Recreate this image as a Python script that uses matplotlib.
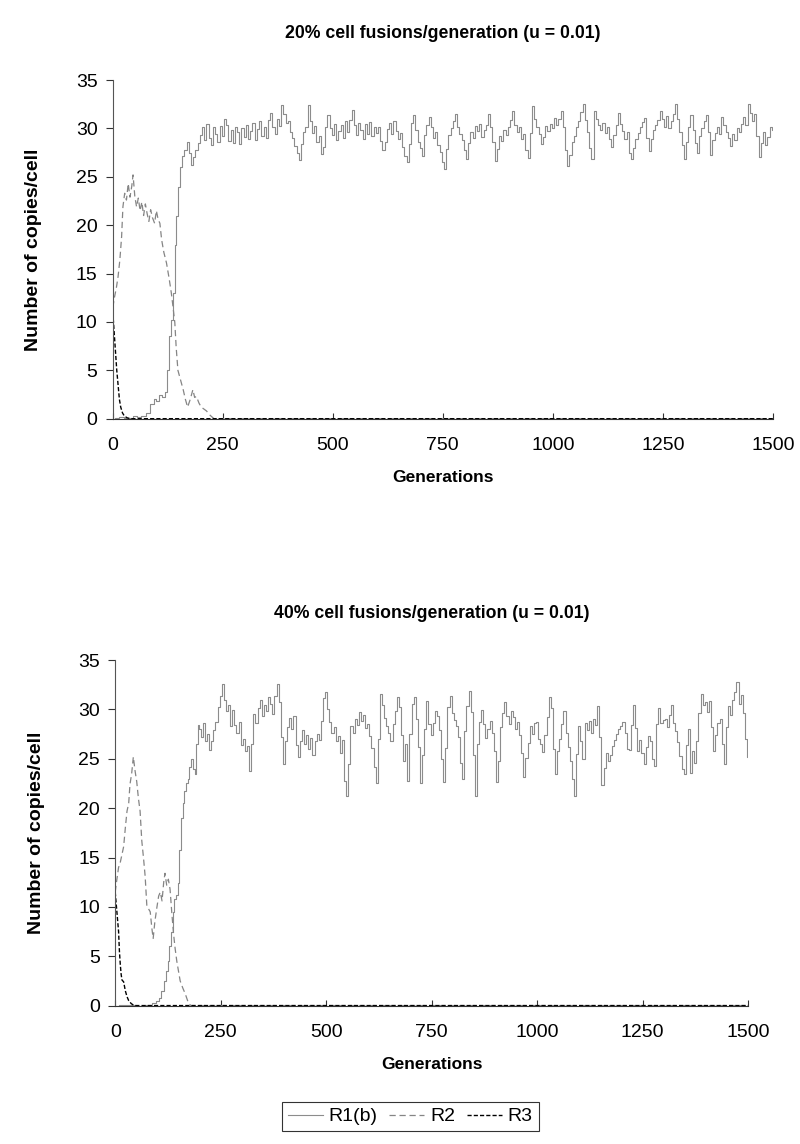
import matplotlib
matplotlib.use("Agg")
import matplotlib.pyplot as plt
import numpy as np

plt.rcParams['font.family'] = ['Liberation Sans', 'DejaVu Sans']

# ---- panel 1: 20% cell fusions ----
top_r1_early_gen = [0, 10, 20, 30, 40, 50, 60, 70, 80, 90, 95, 100, 110, 115, 120, 125, 130, 135, 140,
                    143, 146, 150, 155, 160, 165, 170, 175, 180, 185, 190, 195]
top_r1_early_val = [0, 0.1, 0.2, 0.1, 0.1, 0.3, 0.2, 0.3, 0.6, 1.5, 2.0, 1.8, 2.5, 2.2, 2.8, 5.0, 8.5, 10.2, 13.0,
                    18.0, 21.0, 24.0, 26.0, 27.2, 27.8, 28.6, 27.5, 26.2, 27.0, 27.8, 28.5]
# generations 200..1500, every 5
top_r1_plateau = [
    29.3, 30.2, 28.8, 30.5, 29.0, 28.3, 30.1, 29.4, 28.6, 30.3, 29.2, 31.0, 30.4, 28.7, 29.8, 28.5, 30.2, 29.6, 28.4, 30.0,
    29.1, 30.4, 28.9, 29.7, 30.6, 28.8, 29.9, 30.8, 29.2, 30.1, 29.0, 30.9, 31.6, 30.2, 29.4, 31.0, 30.3, 32.4, 31.5, 30.6,
    30.8, 29.6, 29.0, 28.2, 27.5, 26.7, 28.4, 29.6, 30.2, 32.4, 30.8, 29.5, 30.3, 28.6, 29.2, 27.4, 28.1, 30.2, 31.4, 30.0,
    29.3, 30.5, 28.8, 29.7, 30.4, 29.0, 30.8, 29.6, 30.9, 31.9, 30.4, 29.3, 30.6, 29.8, 28.9, 30.5, 29.4, 30.7, 29.2, 30.1,
    29.5, 30.2, 28.7, 27.8, 28.6, 29.9, 30.6, 29.4, 30.8, 29.7, 28.9, 29.5, 28.1, 27.2, 26.5, 28.4, 30.6, 31.4, 29.8, 28.6,
    28.0, 27.2, 29.3, 30.4, 31.2, 30.1, 29.0, 29.6, 28.3, 27.6, 26.5, 25.8, 27.9, 29.3, 30.0, 30.8, 31.5, 30.2, 29.4, 28.8,
    27.8, 26.8, 28.5, 29.6, 29.0, 30.3, 29.7, 30.5, 29.1, 29.8, 30.4, 31.5, 30.2, 28.6, 26.6, 27.9, 29.2, 28.7, 29.8, 29.3,
    30.2, 30.9, 31.8, 30.4, 29.6, 30.1, 28.9, 29.4, 27.8, 26.9, 29.5, 32.3, 31.0, 30.2, 29.4, 28.4, 29.1, 30.3, 29.7, 30.5,
    30.0, 31.1, 30.4, 31.0, 31.8, 30.2, 27.8, 26.1, 27.3, 28.6, 29.2, 30.1, 30.8, 31.7, 32.5, 30.9, 29.6, 28.0, 26.8, 31.8,
    31.0, 30.4, 29.8, 30.6, 29.5, 30.2, 28.9, 28.1, 29.3, 30.4, 31.6, 30.5, 29.7, 28.9, 29.6, 27.5, 26.8, 28.0, 28.9, 29.5,
    30.1, 30.7, 31.1, 29.0, 27.7, 28.9, 29.8, 30.4, 30.9, 31.8, 31.0, 30.2, 31.3, 30.0, 30.8, 31.5, 32.5, 31.0, 29.6, 28.3,
    26.8, 28.6, 30.2, 31.4, 29.8, 28.5, 27.5, 29.2, 30.0, 30.8, 31.4, 29.6, 27.3, 28.8, 29.5, 30.1, 29.4, 31.2, 30.4, 29.6,
    29.0, 28.2, 29.4, 28.8, 30.0, 29.6, 30.5, 31.2, 30.4, 32.5, 31.6, 30.8, 31.5, 29.2, 27.0, 28.5, 29.6, 28.3, 29.1, 30.2,
    29.8]
top_r2_gen = [0, 4, 8, 12, 16, 20, 23, 27, 31, 35, 39, 43, 46, 50, 54, 58, 62, 66, 70, 74, 78, 82, 86, 90, 95, 99,
              103, 107, 111, 116, 122, 128, 133, 137, 141, 144, 148, 154, 160, 165, 170, 176, 182, 186, 190, 196,
              201, 207, 213, 220, 225, 230, 1500]
top_r2_val = [11.5, 12.6, 13.5, 14.7, 16.4, 18.8, 21.9, 23.3, 22.6, 24.3, 22.9, 24.0, 25.2, 23.0, 21.9, 22.8, 21.5,
              22.4, 21.0, 22.2, 21.2, 20.4, 21.6, 20.8, 20.2, 21.5, 20.6, 20.2, 18.5, 17.2, 16.1, 14.5, 13.0, 11.5,
              9.9, 7.4, 5.0, 4.0, 3.0, 2.0, 1.2, 2.0, 3.0, 2.2, 2.3, 1.6, 1.2, 1.0, 0.8, 0.4, 0.2, 0, 0]
top_r3_gen = [0, 3, 6, 9, 12, 15, 18, 22, 26, 32, 40, 1500]
top_r3_val = [11.0, 9.0, 7.0, 5.0, 3.5, 2.0, 1.2, 0.6, 0.3, 0.1, 0, 0]

# ---- panel 2: 40% cell fusions ----
bot_r1_early_gen = [0, 20, 40, 60, 80, 95, 100, 107, 112, 118, 122, 126, 130, 134, 138, 142, 146, 150, 154,
                    158, 162, 166, 170, 174, 178, 182, 186, 190, 194, 197]
bot_r1_early_val = [0, 0.1, 0.1, 0, 0.1, 0.3, 0.5, 0.8, 1.5, 2.5, 3.5, 4.5, 6.0, 7.5, 9.5, 10.8, 11.2, 12.4, 15.8,
                    19.0, 20.5, 21.7, 22.5, 23.0, 24.2, 25.0, 24.0, 23.5, 26.5, 28.4]
bot_r1_plateau = [
    28.0, 27.2, 28.6, 26.8, 27.5, 25.9, 26.8, 27.9, 28.7, 30.2, 31.4, 32.6, 31.0, 29.8, 30.5, 28.3, 29.9, 28.4, 27.6, 28.7,
    26.4, 27.0, 25.8, 26.3, 23.8, 26.5, 29.5, 28.6, 30.1, 31.0, 29.3, 30.4, 29.8, 31.3, 30.6, 29.5, 31.4, 32.6, 30.8, 27.2,
    24.5, 26.8, 28.2, 29.1, 28.0, 29.3, 26.4, 25.2, 26.8, 27.9, 26.5, 27.4, 26.0, 27.1, 25.4, 26.8, 27.5, 26.9, 28.8, 31.2,
    31.8, 30.0, 28.7, 27.6, 28.2, 26.8, 27.3, 25.6, 26.9, 22.8, 21.2, 24.5, 28.3, 27.6, 29.0, 28.4, 29.7, 28.8, 29.4, 28.1,
    28.5, 27.3, 26.1, 24.2, 22.5, 27.0, 31.6, 30.4, 29.1, 28.3, 27.6, 26.8, 28.5, 29.8, 31.3, 30.2, 27.4, 24.8, 26.5, 22.8,
    27.5, 30.6, 31.3, 29.0, 26.2, 22.5, 25.4, 28.0, 30.9, 28.5, 27.4, 28.6, 29.8, 29.3, 27.9, 25.0, 22.7, 26.1, 30.2, 31.4,
    29.6, 28.9, 28.3, 27.2, 24.6, 23.0, 27.8, 30.3, 31.9, 29.7, 25.4, 21.2, 26.5, 28.7, 29.9, 28.5, 27.1, 28.0, 28.8, 27.6,
    25.8, 22.6, 24.8, 28.2, 29.6, 30.8, 29.3, 28.5, 29.8, 29.2, 28.0, 28.7, 27.4, 25.6, 23.2, 25.1, 26.6, 28.3, 27.5, 28.6,
    28.7, 27.0, 26.5, 25.7, 27.4, 29.2, 31.3, 30.1, 26.0, 23.5, 25.8, 27.0, 28.5, 29.8, 27.6, 26.2, 24.8, 23.0, 21.2, 25.5,
    28.3, 26.8, 25.0, 28.6, 27.9, 28.8, 27.6, 29.0, 28.4, 30.3, 27.2, 22.3, 24.1, 25.6, 24.8, 25.4, 26.3, 26.9, 27.5, 28.0,
    28.3, 28.7, 27.6, 26.0, 25.9, 28.4, 30.4, 28.1, 25.8, 26.9, 25.6, 24.5, 26.2, 27.3, 26.8, 25.0, 24.3, 28.5, 30.1, 28.6,
    28.9, 29.0, 28.2, 29.4, 30.4, 28.6, 27.8, 26.7, 25.3, 24.0, 23.5, 26.4, 28.0, 23.6, 25.8, 24.6, 26.8, 29.6, 31.6, 30.5,
    30.8, 29.7, 30.9, 28.2, 25.8, 27.4, 28.6, 29.0, 26.5, 24.5, 28.2, 30.3, 29.4, 31.0, 31.8, 32.8, 30.6, 31.5, 29.6, 27.0,
    25.2]
bot_r2_gen = [0, 4, 8, 12, 16, 20, 24, 28, 32, 35, 39, 43, 47, 51, 55, 59, 63, 67, 71, 75, 79, 83, 87, 90, 94, 99,
              103, 107, 111, 115, 118, 122, 126, 130, 134, 138, 142, 146, 150, 154, 160, 166, 174, 180, 1500]
bot_r2_val = [11.5, 12.8, 14.0, 14.5, 15.3, 16.1, 18.0, 19.7, 20.5, 22.4, 23.5, 25.2, 23.8, 22.7, 21.0, 19.7, 16.7,
              15.0, 13.1, 10.1, 9.8, 9.5, 7.8, 6.8, 8.5, 10.0, 11.1, 11.5, 10.6, 12.5, 13.4, 12.2, 12.8, 11.8, 9.5,
              7.4, 5.8, 4.5, 3.5, 2.5, 1.8, 1.2, 0.2, 0, 0]
bot_r3_gen = [0, 2, 4, 6, 8, 10, 12, 14, 16, 20, 24, 28, 32, 38, 45, 1500]
bot_r3_val = [11.5, 10.5, 9.5, 8.5, 7.5, 5.5, 4.2, 3.2, 2.6, 2.4, 1.5, 0.9, 0.5, 0.2, 0, 0]

titles = ['20% cell fusions/generation (u = 0.01)', '40% cell fusions/generation (u = 0.01)']
plateau_gen = np.arange(200, 1501, 5)

fig = plt.figure(figsize=(8, 11.44), dpi=100)
ax1 = fig.add_axes([0.141, 0.634, 0.825, 0.296])
ax2 = fig.add_axes([0.144, 0.121, 0.791, 0.302])

panels = [
    (ax1, top_r1_early_gen, top_r1_early_val, top_r1_plateau, top_r2_gen, top_r2_val, top_r3_gen, top_r3_val),
    (ax2, bot_r1_early_gen, bot_r1_early_val, bot_r1_plateau, bot_r2_gen, bot_r2_val, bot_r3_gen, bot_r3_val),
]

for i, (ax, eg, ev, pv, g2, v2, g3, v3) in enumerate(panels):
    g1 = np.concatenate([eg, plateau_gen])
    v1 = np.concatenate([ev, pv])
    l1, = ax.plot(g1, v1, color='#8c8c8c', lw=0.8, drawstyle='steps-mid', label='R1(b)')
    l2, = ax.plot(g2, v2, color='#858585', lw=0.9, dashes=(5, 3), label='R2')
    l3, = ax.plot(g3, v3, color='black', lw=1.0, dashes=(3, 1.5), label='R3')
    ax.set_xlim(0, 1500)
    ax.set_ylim(0, 35)
    ax.set_xticks([0, 250, 500, 750, 1000, 1250, 1500])
    ax.set_yticks(range(0, 36, 5))
    ax.spines['top'].set_visible(False)
    ax.spines['right'].set_visible(False)
    ax.spines['left'].set_color('#555555')
    ax.spines['bottom'].set_color('#333333')
    ax.tick_params(axis='x', direction='in', length=4, labelsize=14, pad=13, color='#333333')
    ax.tick_params(axis='y', direction='out', length=5, labelsize=14, pad=6, color='#333333')
    ax.set_title(titles[i], fontsize=12.7, fontweight='bold', pad=30)
    ax.set_xlabel('Generations', fontsize=12.5, fontweight='bold', labelpad=12)
    ax.set_ylabel('Number of copies/cell', fontsize=14, fontweight='bold', labelpad=24)

leg = fig.legend(handles=[l1, l2, l3], loc='center', bbox_to_anchor=(0.513, 0.024), ncol=3,
                 fontsize=14, frameon=True, fancybox=False, handlelength=1.8, handletextpad=0.3,
                 columnspacing=0.6, borderpad=0.3)
leg.get_frame().set_edgecolor('black')
leg.get_frame().set_linewidth(0.8)

fig.savefig('out.png', dpi=100)
